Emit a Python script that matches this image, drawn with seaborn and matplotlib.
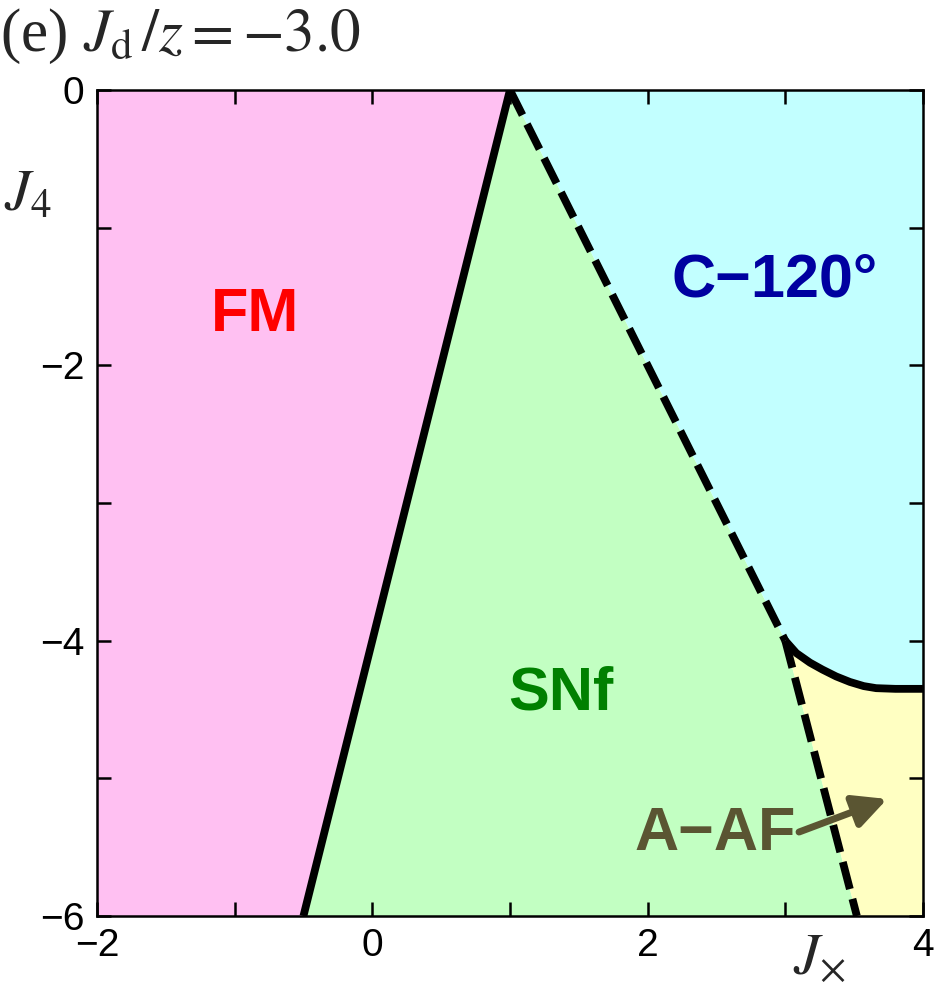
import matplotlib
matplotlib.use("Agg")
import matplotlib.pyplot as plt
import seaborn as sns
import numpy as np
import pandas as pd

# ---- data ----
# FM / SNf boundary (solid)
fm_snf_x = [1.0, -0.5]
fm_snf_y = [0.0, -6.0]
# SNf / C-120 boundary (dashed)
snf_c_x = [1.0, 3.0]
snf_c_y = [0.0, -4.0]
# SNf / A-AF boundary (dashed)
snf_a_x = [3.0, 3.52]
snf_a_y = [-4.0, -6.0]
# C-120 / A-AF boundary (solid curve)
c_a_x = [3.0, 3.08, 3.18, 3.27, 3.37, 3.47, 3.57, 3.66, 3.8, 4.0]
c_a_y = [-4.0, -4.09, -4.16, -4.21, -4.26, -4.30, -4.33, -4.345, -4.35, -4.35]

phase_names = ["FM", "SNf", "C\u2212120\u00b0", "A\u2212AF"]
phase_colors = ["#FFC0F2", "#C2FFC2", "#C2FFFF", "#FFFFC2"]
label_colors = ["#FF0000", "#008000", "#0000A0", "#5A5532"]
label_x = [-0.85, 1.37, 2.92, 2.49]
label_y = [-1.64, -4.39, -1.39, -5.41]

xlim = (-2, 4)
ylim = (-6, 0)
xticks = [-2, -1, 0, 1, 2, 3, 4]
xticklabels = ["\u22122", "", "0", "", "2", "", "4"]
yticks = [-6, -5, -4, -3, -2, -1, 0]
yticklabels = ["\u22126", "", "\u22124", "", "\u22122", "", "0"]

# ---- plot ----
sns.set_style("ticks")
plt.rcParams["font.family"] = ["Liberation Sans", "DejaVu Sans"]
plt.rcParams["mathtext.fontset"] = "stix"

fig = plt.figure(figsize=(9.35, 9.86), dpi=100)
ax = fig.add_axes([0.1037, 0.071, 0.8834, 0.8377])
ax.set_axisbelow(False)

# regions
fm_poly_x = [xlim[0]] + fm_snf_x + [xlim[0]]
fm_poly_y = [ylim[1]] + fm_snf_y + [ylim[0]]
ax.fill(fm_poly_x, fm_poly_y, color=phase_colors[0], lw=0)

snf_poly_x = [fm_snf_x[0], snf_c_x[1], snf_a_x[1], fm_snf_x[1]]
snf_poly_y = [fm_snf_y[0], snf_c_y[1], snf_a_y[1], fm_snf_y[1]]
ax.fill(snf_poly_x, snf_poly_y, color=phase_colors[1], lw=0)

c_poly_x = [snf_c_x[0], xlim[1]] + c_a_x[::-1]
c_poly_y = [snf_c_y[0], ylim[1]] + c_a_y[::-1]
ax.fill(c_poly_x, c_poly_y, color=phase_colors[2], lw=0)

a_poly_x = c_a_x + [xlim[1], snf_a_x[1]]
a_poly_y = c_a_y + [ylim[0], snf_a_y[1]]
ax.fill(a_poly_x, a_poly_y, color=phase_colors[3], lw=0)

# boundaries
def draw(xs, ys, dashed=False):
    df = pd.DataFrame({"x": xs, "y": ys})
    if dashed:
        sns.lineplot(data=df, x="x", y="y", sort=False, estimator=None, ax=ax,
                     color="black", lw=5.6, linestyle=(0, (3.6, 1.3)),
                     dash_capstyle="butt")
    else:
        sns.lineplot(data=df, x="x", y="y", sort=False, estimator=None, ax=ax,
                     color="black", lw=5.6, solid_capstyle="butt",
                     solid_joinstyle="round")

draw(fm_snf_x, fm_snf_y)
draw(c_a_x, c_a_y)
draw(snf_c_x, snf_c_y, dashed=True)
draw(snf_a_x, snf_a_y, dashed=True)

# labels
for name, c, x, y in zip(phase_names, label_colors, label_x, label_y):
    ax.text(x, y, name, color=c, fontsize=44, fontweight="bold",
            ha="center", va="center", family=["Liberation Sans", "DejaVu Sans"])

ax.annotate("", xy=(3.74, -5.15), xytext=(3.1, -5.39),
            arrowprops=dict(arrowstyle="-|>,head_length=2.0,head_width=1.0",
                            color=label_colors[3], lw=5, shrinkA=0, shrinkB=0))

ax.set_xlim(*xlim)
ax.set_ylim(*ylim)
ax.set_xticks(xticks)
ax.set_xticklabels(xticklabels)
ax.set_yticks(yticks)
ax.set_yticklabels(yticklabels)
ax.tick_params(direction="in", length=10, width=1.8, labelsize=28,
               top=True, right=True, pad=9, color="black", labelcolor="black")
for s in ax.spines.values():
    s.set_linewidth(1.8)
    s.set_color("black")
ax.set_xlabel("")
ax.set_ylabel("")

fig.text(0.848, 0.0, r"$J_{\times}$", fontsize=42, ha="left", va="bottom")
fig.text(0.004, 0.775, r"$J_4$", fontsize=42, ha="left", va="bottom")
fig.text(0.0, 0.933, r"(e) $J_{\rm d}\,/z = -3.0$", fontsize=44, ha="left", va="bottom",
         family=["Liberation Serif", "DejaVu Serif"])

fig.savefig("out.png", dpi=100)
